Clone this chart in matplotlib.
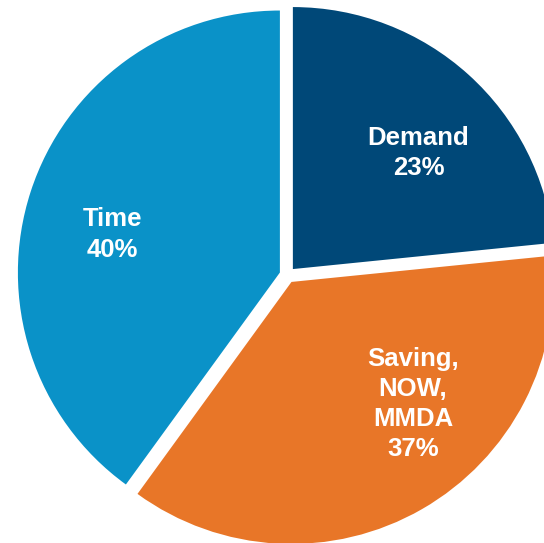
import matplotlib
matplotlib.use("Agg")
import matplotlib.pyplot as plt
import numpy as np

categories = ["Demand", "Saving,\nNOW,\nMMDA", "Time"]
values = [23.4, 36.6, 40.0]
colors = ["#004878", "#E87628", "#0A92C8"]

# label placement (angle in degrees, distance in px from pie centre)
label_angles = [43, -45.8, 167]
label_dist = [179, 180, 180]

W, H = 544, 543
fig = plt.figure(figsize=(W / 100, H / 100), dpi=100)
ax = fig.add_axes([0, 0, 1, 1])

cx, cy, r = 287.5, 268.0, 262.0
wedges, _ = ax.pie(values, colors=colors, startangle=90, counterclock=False,
                   center=(cx, cy), radius=r, explode=[8, 8, 8],
                   wedgeprops=dict(linewidth=0))

total = sum(values)
for cat, v, a, d in zip(categories, values, label_angles, label_dist):
    pct = round(100 * v / total)
    x = cx + d * np.cos(np.radians(a))
    y = cy + d * np.sin(np.radians(a))
    ax.text(x, y, f"{cat}\n{pct}%", ha="center", va="center", color="white",
            fontsize=18.5, fontweight="bold", family="Liberation Sans",
            linespacing=1.32)

ax.set_xlim(0, W)
ax.set_ylim(0, H)
ax.set_aspect("equal")
ax.axis("off")
fig.savefig("out.png", dpi=100)
